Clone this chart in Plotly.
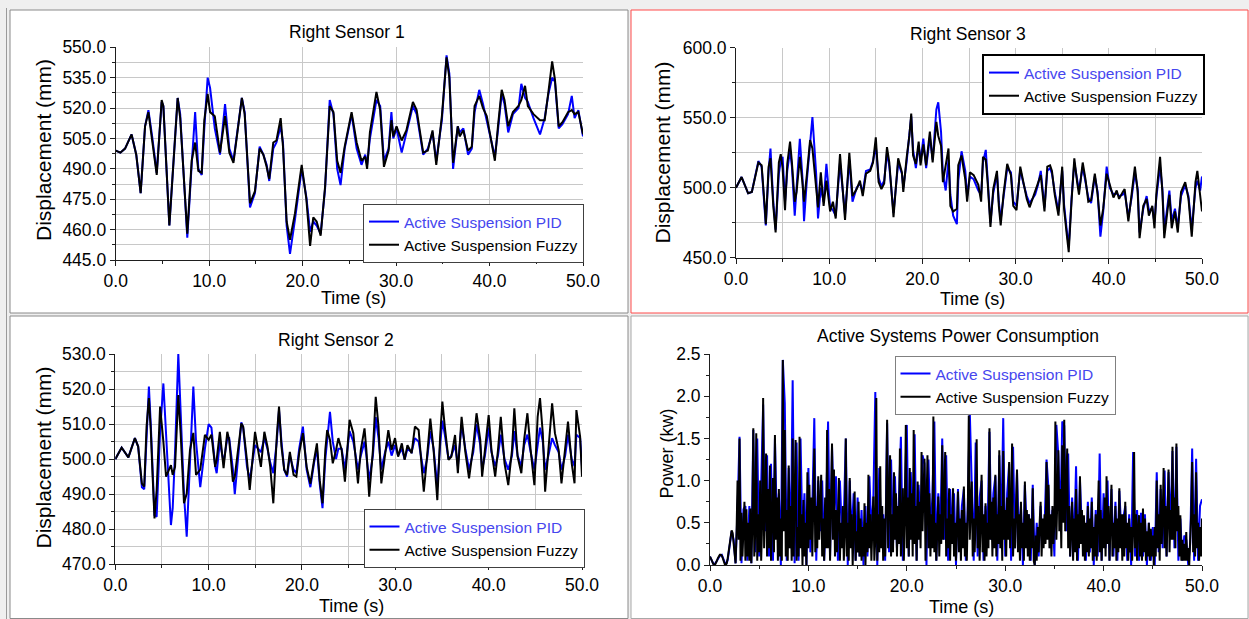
import plotly.graph_objects as go

W, H = 1249, 619


def fx(p):
    return p / W


def fy(p):
    return 1 - p / H


# ---------------- Right Sensor 1 ----------------
s1_t = [0.0, 0.5, 1.0, 1.7, 2.2, 2.67, 3.14, 3.5, 3.9, 4.39, 4.92, 5.1, 5.74, 6.2, 6.63, 6.9, 7.66, 8.13, 8.5, 8.84,
        9.2, 9.48, 9.84, 10.1, 10.6, 11.16, 11.7, 12.16, 12.6, 13.5, 13.8, 14.37, 14.9, 15.4, 15.8, 16.15, 16.43, 16.86,
        17.2, 17.65, 17.9, 18.29, 18.65, 19.18, 19.9, 20.4, 20.8, 21.14, 21.5, 21.93, 22.4, 22.9, 23.3, 23.7, 24.06,
        24.5, 25.24, 25.78, 26.3, 26.7, 26.9, 27.2, 27.9, 28.3, 28.7, 29.2, 29.5, 29.7, 30.05, 30.6, 31.1, 31.8, 32.2,
        32.9, 33.4, 33.9, 34.3, 34.9, 35.4, 35.7, 36.1, 36.6, 36.8, 37.2, 37.7, 38.1, 38.4, 38.9, 39.3, 39.7, 40.2,
        40.57, 40.9, 41.3, 41.6, 42.0, 42.5, 43.1, 43.4, 43.8, 44.1, 44.7, 45.4, 45.9, 46.3, 46.7, 47.0, 47.4, 47.8,
        48.4, 48.8, 49.1, 49.5, 50.0]
s1_fuzzy = [499, 498, 500, 507, 497, 478, 511, 518, 504, 487, 524, 521, 462, 495, 525, 515, 458, 494, 503, 489,
            488, 514, 527, 518, 516, 498, 516, 498, 493, 525, 517, 473, 479, 500, 497, 491, 485, 503,
            504, 515, 501, 464, 455, 468, 492, 475, 452, 466, 464, 457, 481, 521, 518, 494, 488,
            501, 518, 503, 494, 496, 490, 508, 528, 519, 491, 499, 514, 506, 511, 504, 509, 523, 519,
            498, 499, 509, 492, 516, 545, 535, 493, 511, 506, 509, 499, 501, 521, 526, 520, 516, 503,
            494, 511, 529, 524, 511, 518, 521, 524, 531, 521, 517, 514, 514, 528, 543, 534, 511, 513,
            518, 519, 517, 518, 507]
s1_pid = [499, 498, 500, 507, 497, 478, 511, 519, 506, 488, 523, 521, 462, 494, 525, 517, 456, 492, 518, 490,
          487, 510, 535, 530, 510, 497, 522, 500, 494, 525, 518, 471, 478, 501, 497, 492, 484, 500,
          503, 511, 503, 462, 448, 465, 490, 476, 459, 464, 462, 458, 480, 524, 517, 490, 482,
          500, 517, 500, 492, 497, 492, 505, 524, 521, 494, 500, 518, 505, 510, 498, 507, 521, 517,
          497, 500, 508, 494, 514, 546, 537, 490, 511, 508, 510, 497, 500, 518, 529, 522, 514, 505,
          496, 509, 527, 522, 508, 517, 520, 532, 525, 523, 515, 507, 515, 527, 535, 533, 510, 512,
          517, 526, 515, 519, 506]

# ---------------- Right Sensor 3 ----------------
s3_t = [0.0, 0.6, 1.3, 1.7, 2.4, 2.75, 3.1, 3.2, 3.5, 3.7, 4.0, 4.25, 4.6, 4.8, 5.0, 5.26, 5.5, 5.8, 6.0, 6.3,
        6.5, 6.85, 7.15, 7.3, 7.6, 7.95, 8.2, 8.6, 8.8, 9.1, 9.4, 9.7, 10.1, 10.4, 10.7, 11.16, 11.7, 12.16, 12.5,
        12.95, 13.3, 13.6, 13.95, 14.4, 14.7, 15.0, 15.3, 15.6, 15.9, 16.2, 16.45, 16.9, 17.2, 17.4, 17.8, 17.95,
        18.3, 18.6, 18.8, 19.0, 19.3, 19.6, 19.8, 20.1, 20.4, 20.8, 21.1, 21.5, 21.7, 22.0, 22.2, 22.5, 22.8, 23.0,
        23.3, 23.7, 23.85, 24.2, 24.6, 24.8, 25.1, 25.5, 26.0, 26.3, 26.5, 26.8, 27.0, 27.3, 27.6, 28.0, 28.2, 28.4,
        28.7, 29.1, 29.5, 29.75, 30.1, 30.5, 30.8, 31.2, 31.5, 32.1, 32.4, 32.7, 33.1, 33.4, 33.7, 33.9, 34.2, 34.6,
        35.0, 35.2, 35.5, 35.7, 36.0, 36.3, 36.6, 36.8, 37.2, 37.5, 37.8, 38.1, 38.5, 38.8, 39.1, 39.4, 39.77, 40.1,
        40.5, 40.85, 41.1, 41.5, 41.7, 42.1, 42.45, 42.8, 43.1, 43.3, 43.7, 44.06, 44.3, 44.67, 44.9, 45.1, 45.5,
        45.75, 45.95, 46.2, 46.5, 46.75, 47.1, 47.4, 47.75, 48.2, 48.55, 48.9, 49.3, 49.5, 49.8, 50.0]
s3_fuzzy = [500, 507.6, 496, 497, 518, 516, 485, 474, 515, 521, 487, 468, 518, 524, 514, 484, 517, 533, 518, 490,
            497, 522, 502, 490, 509, 534, 528, 497, 486, 511, 487, 505, 483, 490, 478, 524, 477, 525, 494,
            499, 505, 494, 510, 512, 518, 536, 504, 499, 503, 529, 518, 479, 504, 521, 511, 497,
            521, 537, 553, 523, 517, 533, 516, 531, 516, 540, 518, 547, 537, 530, 504, 515, 528, 487,
            483, 485, 516, 523, 506, 490, 511, 509, 502, 490, 522, 520, 504, 472, 499, 512, 487, 473,
            495, 517, 509, 487, 484, 515, 506, 492, 486, 497, 504, 509, 483, 515, 516, 512, 495, 480,
            515, 485, 466, 454, 490, 521, 504, 495, 518, 506, 490, 491, 510, 495, 473, 485, 510, 502,
            493, 498, 492, 497, 499, 476, 495, 515, 497, 464, 487, 492, 480, 487, 471, 495, 522,
            497, 464, 478, 495, 471, 483, 468, 497, 504, 492, 465, 504, 512, 497, 483]
s3_pid = [500, 507.6, 496, 497, 519, 515, 482, 473, 512, 528, 490, 470, 510, 519, 522, 490, 512, 527, 515, 480,
          500, 535, 505, 476, 505, 530, 550.5, 510, 478, 500, 490, 517, 486, 484, 480, 518, 481, 520, 490,
          500, 503, 497, 512, 513, 519, 530, 507, 501, 505, 525, 515, 482, 506, 518, 510, 500,
          518, 540, 551, 527, 514, 530, 519, 535, 514, 536, 520, 556, 561, 540, 510, 498, 520, 495,
          480, 474, 505, 526, 512, 494, 508, 506, 498, 495, 518, 527, 508, 475, 496, 510, 490, 477,
          493, 514, 511, 490, 487, 513, 504, 494, 489, 495, 502, 512, 486, 512, 514, 510, 497, 483,
          512, 488, 469, 458, 492, 518, 506, 498, 515, 504, 493, 489, 508, 497, 465, 483, 515, 500,
          495, 496, 494, 495, 497, 479, 493, 511, 499, 468, 485, 494, 484, 485, 475, 493, 515,
          499, 470, 482, 498, 476, 485, 472, 494, 502, 494, 470, 500, 505, 498, 508]

# ---------------- Right Sensor 2 ----------------
s2_t = [0.0, 0.68, 1.4, 2.1, 2.45, 2.85, 3.1, 3.35, 3.6, 3.8, 4.0, 4.2, 4.43, 4.8, 5.15, 5.44, 5.96, 6.15, 6.4,
        6.75, 7.0, 7.36, 7.65, 8.0, 8.36, 8.65, 9.1, 9.6, 10.0, 10.3, 10.7, 10.86, 11.2, 11.6, 12.0, 12.2, 12.6,
        12.8, 13.5, 13.7, 14.1, 14.4, 14.97, 15.3, 15.6, 15.97, 16.3, 16.6, 16.93, 17.3, 17.54, 17.8, 18.1, 18.4,
        18.7, 19.1, 19.4, 19.7, 20.1, 20.5, 20.9, 21.3, 21.6, 21.9, 22.2, 22.5, 22.7, 23.0, 23.3, 23.65, 23.9,
        24.25, 24.6, 25.1, 25.5, 26.0, 26.3, 26.7, 26.9, 27.2, 27.6, 27.9, 28.2, 28.5, 28.9, 29.25, 29.6, 29.97,
        30.3, 30.7, 31.0, 31.3, 31.75, 32.1, 32.5, 32.8, 33.05, 33.4, 33.75, 34.1, 34.5, 34.8, 35.04, 35.3, 35.7,
        36.0, 36.4, 36.7, 37.1, 37.5, 37.9, 38.35, 38.7, 39.1, 39.3, 39.6, 40.0, 40.3, 40.7, 41.0, 41.3, 41.7,
        42.1, 42.5, 42.75, 43.1, 43.5, 43.8, 44.15, 44.5, 44.9, 45.25, 45.5, 45.8, 46.05, 46.4, 46.8, 47.1, 47.5,
        47.8, 48.2, 48.5, 48.9, 49.2, 49.4, 49.8, 50.0]
s2_fuzzy = [500, 503.3, 500.5, 506, 503.6, 493, 492.2, 509.3, 517.4, 508.3, 495, 483.1, 491.2, 515, 505, 495,
            498.3, 495.5, 497.8, 518.3, 507.4, 487.4, 490.2, 502.6, 507.5, 495.5, 497, 506.9, 505.5, 507, 497.8,
            499.8, 507.8, 497.4, 507.8, 505.5, 493.6, 495, 510.2, 509.3, 499.8, 491.2, 507.8, 502.6, 497.8, 507.8,
            503.6, 497.8, 487.4, 506.4, 515, 503.6, 496.9, 495.5, 502.1, 495.5, 495, 501.7, 507.4, 497.8, 493,
            499.8, 504.5, 494, 487.4, 502.6, 508.3, 505.5, 498.8, 502.6, 506, 502.6, 493.6, 511.2, 507.4, 493.1,
            502.6, 508.8, 502.6, 489.3, 502.6, 517.8, 509.3, 493.1, 501.7, 508.3, 502.6, 506, 500.7, 504.5, 499.8,
            504, 501.7, 509.3, 508.3, 499.8, 490.7, 500.7, 511.6, 502.6, 488.3, 506.4, 516.4, 509.3, 499.8, 500.7,
            506.9, 496, 512.1, 502.1, 494.5, 503.6, 513.1, 505.5, 495, 502.6, 512.6, 502.6, 495, 502.6, 512.1,
            498.8, 492.6, 502.6, 514.5, 500.7, 496, 505.5, 513.1, 502.6, 492.6, 512.1, 517.4, 507.4, 490.7, 502.6,
            515.9, 507.4, 502.6, 493.1, 502.6, 510.7, 498.8, 493.1, 514, 506.4, 495]
s2_pid = [500, 503.3, 500.5, 506, 503.6, 492, 491.4, 508, 520.7, 510, 494, 484, 483.6, 508, 521.6, 506,
          481.2, 486, 502, 530, 515, 490, 477.9, 497, 520.7, 505, 492, 503, 510, 509, 498,
          496, 505, 499, 506, 506, 497, 490, 510.5, 509, 498, 494, 504, 503, 502, 506,
          503, 499, 496, 505, 514, 505, 497, 495, 501, 497, 496, 503, 509.3, 497, 492,
          499, 503, 493, 486, 500, 505, 513.5, 505, 500, 503, 503, 497, 508, 505, 497,
          501, 505, 501, 494, 501, 512, 506, 497, 502, 505, 501, 504, 501, 503, 500,
          503, 502, 506, 505, 500, 496, 500, 508, 503, 492, 504, 511, 507, 500, 501,
          504, 498, 510, 503, 497, 502, 510, 504, 497, 501, 509, 502, 498, 501, 507,
          500, 497, 501, 508, 501, 498, 504, 507, 502, 497, 504, 509, 505, 497, 501,
          506, 504, 502, 497, 501, 507, 500, 498, 507, 506, 498]

# ---------------- Power consumption ----------------
# Fuzzy: one reading every 0.1 s (one row per second)
pwr_fuzzy = [
    0.10, 0.08, 0.05, 0.02, 0.00, 0.00, 0.02, 0.05, 0.08, 0.10,
    0.12, 0.12, 0.11, 0.08, 0.04, 0.01, 0.00, 0.02, 0.08, 0.18,
    0.28, 0.36, 0.41, 0.38, 0.23, 0.08, 0.02, 0.40, 1.00, 0.30,
    1.50, 0.05, 0.62, 0.10, 0.55, 0.75, 0.05, 0.66, 0.10, 0.50,
    0.05, 0.67, 0.02, 0.45, 1.62, 0.10, 0.40, 1.56, 0.05, 0.60,
    0.15, 1.00, 0.05, 0.50, 1.98, 0.20, 0.70, 1.32, 0.10, 0.90,
    0.20, 1.18, 0.05, 0.60, 1.03, 0.15, 1.54, 0.30, 0.80, 0.05,
    0.90, 0.10, 0.55, 0.05, 2.43, 0.40, 1.60, 0.10, 0.65, 0.05,
    1.18, 0.20, 0.70, 0.05, 1.50, 0.10, 0.60, 1.48, 0.05, 0.45,
    0.10, 1.52, 0.20, 0.60, 0.00, 0.77, 0.10, 0.50, 0.00, 1.10,
    0.20, 0.95, 0.30, 0.80, 0.10, 0.60, 1.38, 0.15, 0.70, 0.20,
    1.05, 0.30, 0.75, 1.07, 0.10, 0.55, 0.05, 0.80, 0.20, 1.60,
    0.20, 0.90, 0.05, 0.60, 1.44, 0.30, 1.13, 0.10, 0.65, 0.15,
    0.55, 1.03, 0.05, 0.50, 0.20, 0.70, 0.05, 0.40, 1.50, 0.10,
    0.50, 0.05, 1.03, 0.20, 0.60, 0.00, 0.45, 0.87, 0.05, 0.40,
    0.15, 0.75, 0.10, 0.55, 0.05, 0.45, 0.10, 0.73, 0.00, 0.50,
    0.15, 1.07, 0.20, 0.60, 0.05, 0.40, 0.81, 0.05, 0.30, 1.98,
    0.05, 0.60, 0.15, 1.17, 0.20, 0.70, 0.05, 0.55, 0.10, 0.80,
    1.72, 0.20, 0.75, 1.30, 0.10, 0.60, 0.15, 1.10, 0.30, 0.85,
    0.10, 0.70, 0.25, 1.38, 0.10, 0.55, 0.91, 0.05, 0.60, 1.66,
    0.20, 0.80, 0.10, 1.15, 0.30, 0.85, 0.10, 1.60, 0.25, 0.70,
    0.05, 0.99, 0.30, 0.75, 0.20, 1.34, 0.40, 0.90, 1.26, 0.05,
    0.60, 1.30, 0.20, 0.85, 0.10, 0.60, 0.20, 1.76, 0.15, 0.50,
    0.05, 0.45, 0.81, 0.10, 0.60, 0.25, 1.42, 0.30, 0.80, 1.34,
    0.10, 0.55, 0.20, 0.91, 0.05, 0.60, 0.25, 0.91, 0.10, 0.50,
    0.05, 0.40, 0.87, 0.15, 0.55, 0.05, 0.65, 0.20, 0.93, 0.10,
    0.50, 0.05, 0.65, 1.77, 0.30, 0.70, 0.99, 0.10, 0.55, 0.15,
    0.60, 1.49, 0.20, 0.70, 0.05, 0.50, 1.07, 0.15, 0.60, 0.05,
    0.73, 0.10, 0.50, 0.20, 1.62, 0.30, 0.75, 0.10, 0.80, 0.20,
    1.07, 0.10, 0.60, 0.25, 1.36, 0.20, 0.70, 0.05, 1.35, 0.30,
    0.65, 0.10, 0.80, 0.30, 1.22, 0.20, 0.60, 1.44, 0.10, 0.55,
    0.20, 0.70, 1.13, 0.15, 0.60, 0.05, 0.75, 0.20, 0.50, 0.05,
    0.99, 0.20, 0.65, 0.10, 0.60, 0.05, 0.55, 0.20, 0.91, 0.05,
    0.00, 0.35, 0.05, 0.45, 0.15, 0.50, 0.75, 0.10, 0.55, 0.20,
    0.60, 0.25, 1.22, 0.30, 0.95, 0.20, 0.60, 0.10, 0.70, 0.25,
    0.50, 1.70, 0.30, 0.80, 1.36, 0.40, 0.90, 0.20, 1.42, 0.50,
    1.72, 0.40, 0.90, 1.38, 0.20, 0.70, 0.10, 0.50, 0.75, 0.05,
    0.55, 0.15, 0.90, 0.05, 0.60, 0.20, 1.05, 0.25, 0.65, 0.10,
    0.59, 0.05, 0.50, 0.15, 0.70, 0.10, 0.55, 0.20, 0.75, 0.05,
    0.45, 0.10, 0.60, 0.05, 0.50, 1.00, 0.15, 0.65, 0.05, 0.55,
    0.20, 0.80, 0.10, 1.05, 0.25, 0.70, 0.05, 0.60, 0.95, 0.10,
    0.50, 0.20, 0.70, 0.05, 0.55, 0.15, 0.91, 0.20, 0.60, 0.05,
    0.60, 0.10, 0.75, 0.20, 0.50, 0.05, 0.55, 0.15, 0.45, 0.05,
    0.40, 1.34, 0.20, 0.60, 0.05, 0.45, 0.59, 0.10, 0.50, 0.05,
    0.67, 0.15, 0.55, 0.05, 0.40, 0.10, 0.50, 0.05, 0.43, 0.10,
    0.35, 0.00, 0.45, 0.10, 1.00, 0.20, 0.60, 0.05, 0.95, 0.25,
    0.55, 1.15, 0.20, 0.70, 0.10, 0.60, 1.13, 0.15, 0.65, 0.30,
    1.40, 0.30, 0.80, 0.20, 1.44, 0.40, 0.70, 0.10, 0.59, 0.05,
    0.30, 0.05, 0.25, 0.05, 0.39, 0.05, 0.20, 0.00, 0.30, 0.60,
    1.22, 0.15, 0.60, 0.10, 1.10, 0.20, 0.50, 0.05, 0.45, 0.10,
    0.55]
pwr_fuzzy_step = 0.1
pwr_fuzzy_t = [round(i * pwr_fuzzy_step, 1) for i in range(len(pwr_fuzzy))]

# PID: one reading every 0.2 s
pwr_pid = [0.10, 0.05, 0.00, 0.03, 0.08, 0.11, 0.12, 0.07, 0.00, 0.06,
           0.25, 0.40, 0.30, 0.02, 0.65, 1.52, 0.02, 0.66, 0.70, 0.05,
           0.70, 0.02, 1.60, 0.15, 1.50, 0.10, 0.95, 1.90, 0.40, 1.30,
           0.10, 1.20, 0.05, 1.50, 0.45, 0.85, 0.00, 2.43, 1.92, 0.05,
           1.15, 0.20, 2.19, 0.02, 1.45, 0.05, 1.50, 0.30, 0.85, 0.00,
           1.15, 0.15, 0.70, 1.74, 0.05, 1.00, 0.40, 1.00, 0.05, 0.65,
           1.70, 0.10, 1.40, 0.60, 1.05, 0.05, 1.00, 0.40, 0.55, 1.50,
           0.00, 1.00, 0.35, 0.85, 0.05, 0.80, 0.10, 0.65, 0.00, 0.70,
           0.10, 1.05, 0.40, 0.78, 2.05, 0.00, 1.15, 0.30, 0.60, 0.05,
           1.68, 0.15, 1.25, 0.25, 1.05, 0.20, 0.80, 1.52, 0.05, 0.95,
           1.66, 0.10, 1.10, 0.45, 1.55, 0.05, 0.95, 0.50, 1.30, 1.20,
           0.00, 1.25, 0.40, 0.80, 1.70, 0.05, 0.85, 0.35, 1.50, 0.30,
           1.30, 0.05, 0.90, 0.40, 0.85, 0.00, 0.90, 0.20, 0.70, 0.90,
           0.05, 0.70, 1.82, 0.95, 0.05, 1.45, 0.10, 0.80, 1.00, 0.05,
           0.70, 0.35, 1.58, 0.30, 0.85, 1.05, 0.05, 1.30, 0.40, 1.74,
           0.10, 0.85, 1.20, 0.05, 1.40, 0.20, 1.10, 0.30, 0.70, 0.00,
           0.95, 0.40, 0.60, 0.05, 0.95, 0.00, 0.50, 0.10, 0.70, 0.25,
           0.45, 1.25, 0.90, 0.20, 0.65, 0.10, 1.66, 1.30, 0.50, 1.70,
           1.65, 0.40, 1.32, 0.10, 0.80, 0.20, 1.17, 0.05, 1.00, 0.40,
           0.55, 0.05, 0.75, 0.15, 0.80, 0.00, 0.65, 0.10, 1.32, 0.05,
           0.85, 0.20, 1.00, 0.05, 0.90, 0.10, 0.75, 0.05, 0.88, 0.40,
           0.55, 0.70, 0.05, 0.60, 0.00, 1.34, 0.10, 0.65, 0.05, 0.62,
           0.10, 0.60, 0.00, 0.50, 0.05, 0.45, 0.00, 1.10, 0.15, 0.90,
           0.20, 1.12, 0.10, 1.10, 0.45, 1.35, 0.20, 1.40, 0.05, 0.55,
           0.05, 0.35, 0.30, 0.00, 0.25, 1.38, 0.05, 1.26, 0.05, 0.70,
           0.78]
pwr_pid_step = 0.2
pwr_pid_t = [round(i * pwr_pid_step, 1) for i in range(len(pwr_pid))]

PID_NAME = "<span style='color:#4646ee'>Active Suspension PID</span>"
FUZZY_NAME = "Active Suspension Fuzzy"
BLUE = "#0000ff"
BLACK = "#000000"
FONT = "Liberation Sans, Arial, sans-serif"

fig = go.Figure()

series = [
    (s1_t, s1_pid, s1_t, s1_fuzzy, "x", "y", "legend", 2.0),
    (s3_t, s3_pid, s3_t, s3_fuzzy, "x2", "y2", "legend2", 2.0),
    (s2_t, s2_pid, s2_t, s2_fuzzy, "x3", "y3", "legend3", 2.0),
    (pwr_pid_t, pwr_pid, pwr_fuzzy_t, pwr_fuzzy, "x4", "y4", "legend4", 2.0),
]
for tp, pid, tf, fz, xa, ya, lg, lw in series:
    fig.add_trace(go.Scatter(x=tp, y=pid, mode="lines", name=PID_NAME, xaxis=xa, yaxis=ya, legend=lg,
                             line=dict(color=BLUE, width=lw)))
    fig.add_trace(go.Scatter(x=tf, y=fz, mode="lines", name=FUZZY_NAME, xaxis=xa, yaxis=ya, legend=lg,
                             line=dict(color=BLACK, width=lw)))

GRID = "#c8c8c8"
AX = "#1e1e1e"


def axis(domain, rng, tick0, dtick, minor_dtick, grid, minor_grid, anchor):
    return dict(
        domain=domain, range=rng, anchor=anchor, tick0=tick0, dtick=dtick, tickformat=".1f",
        showline=True, linecolor=AX, linewidth=1, ticks="outside", ticklen=5, tickcolor=AX,
        tickfont=dict(size=17.5, color="#000", family=FONT), zeroline=False, automargin=False,
        showgrid=grid, gridcolor=GRID, gridwidth=1, fixedrange=True,
        minor=dict(tick0=tick0, dtick=minor_dtick, ticks="outside", ticklen=3, tickcolor=AX,
                   showgrid=minor_grid, gridcolor=GRID, gridwidth=1),
    )


layout = dict(
    width=W, height=H, autosize=False,
    margin=dict(l=0, r=0, t=0, b=0, pad=0, autoexpand=False),
    paper_bgcolor="#efefef", plot_bgcolor="white",
    font=dict(family=FONT, color="#000"),
    xaxis=axis([fx(115.7), fx(583)], [0, 50], 0, 10, 5, True, False, "y"),
    yaxis=axis([fy(260), fy(47.3)], [445, 550], 445, 15, 7.5, True, True, "x"),
    xaxis2=axis([fx(736), fx(1202)], [0, 50], 0, 10, 5, True, True, "y2"),
    yaxis2=axis([fy(257.7), fy(47.7)], [450, 600], 450, 50, 25, True, True, "x2"),
    xaxis3=axis([fx(115.3), fx(582)], [0, 50], 0, 10, 5, True, True, "y3"),
    yaxis3=axis([fy(564.3), fy(354)], [470, 530], 470, 10, 5, True, True, "x3"),
    xaxis4=axis([fx(710), fx(1202)], [0, 50], 0, 10, 5, False, False, "y4"),
    yaxis4=axis([fy(565), fy(354)], [0, 2.5], 0, 0.5, 0.25, False, False, "x4"),
)


def legend(x, y, border, bw):
    return dict(x=fx(x), y=fy(y), xanchor="left", yanchor="top", bgcolor="white", bordercolor=border,
                borderwidth=bw, font=dict(size=15.5, color="#000", family=FONT), tracegroupgap=0,
                traceorder="normal")


layout["legend"] = legend(363, 204, "#404040", 1)
layout["legend2"] = legend(982, 54, "#000000", 2)
layout["legend3"] = legend(363.5, 509, "#404040", 1)
layout["legend4"] = legend(894.5, 356, "#808080", 1)

# panel frames (window chrome)
panels = [
    (10, 10, 628, 313, "#8a8a8a"),
    (631, 10, 1248, 313, "#ff4a4a"),
    (10, 316, 628, 618.5, "#8a8a8a"),
    (631, 316, 1248, 618.5, "#a8a8a8"),
]
shapes = []
for x0, y0, x1, y1, col in panels:
    shapes.append(dict(type="rect", xref="paper", yref="paper", x0=fx(x0), x1=fx(x1), y0=fy(y1), y1=fy(y0),
                       fillcolor="white", line=dict(color=col, width=1), layer="below"))
shapes.append(dict(type="line", xref="paper", yref="paper", x0=fx(6.5), x1=fx(6.5), y0=0, y1=fy(8),
                   line=dict(color="#9a9a9a", width=1), layer="below"))
layout["shapes"] = shapes

ann = []


def text(s, x, y, size, angle=0):
    ann.append(dict(text=s, x=fx(x), y=fy(y), xref="paper", yref="paper", showarrow=False,
                    xanchor="center", yanchor="middle", textangle=angle,
                    font=dict(size=size, color="#000", family=FONT)))


text("Right Sensor 1", 347, 32, 17.5)
text("Right Sensor 3", 968, 34, 17.5)
text("Right Sensor 2", 335.5, 340, 17.5)
text("Active Systems Power Consumption", 957.5, 336.5, 17.5)
text("Displacement (mm)", 43, 150, 21, -90)
text("Displacement (mm)", 662, 152.5, 21, -90)
text("Displacement (mm)", 43, 457.5, 21, -90)
text("Power (kw)", 666.5, 454, 18, -90)
text("Time (s)", 353, 298, 18)
text("Time (s)", 972, 298.5, 18)
text("Time (s)", 351.5, 605.5, 18)
text("Time (s)", 961.5, 606.5, 18)
layout["annotations"] = ann

fig.update_layout(**layout)
fig.write_html("out.html")
